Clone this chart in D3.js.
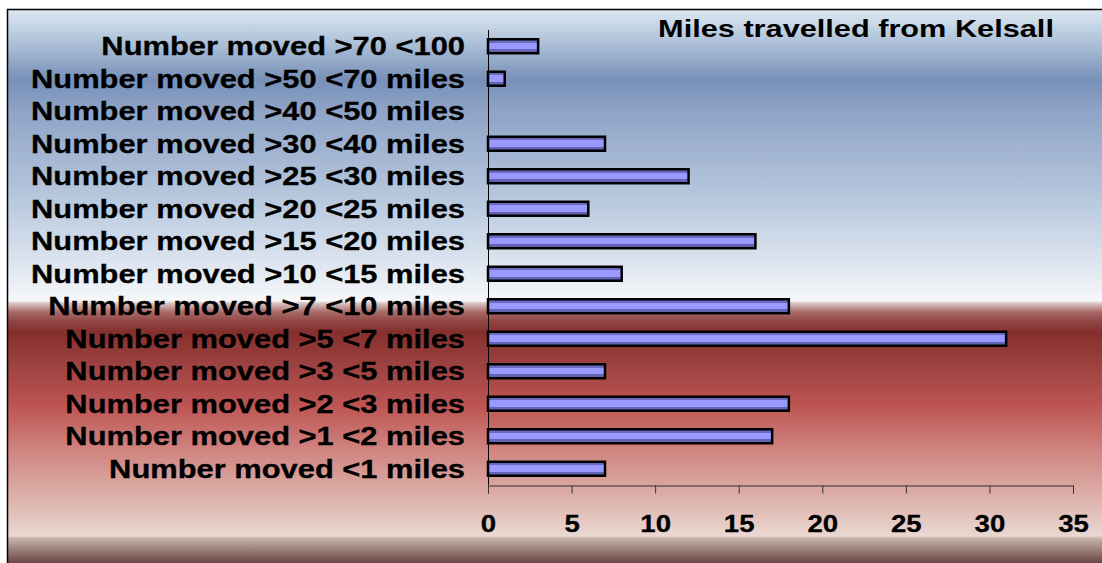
<!DOCTYPE html>
<html>
<head>
<meta charset="utf-8">
<script src="https://cdn.jsdelivr.net/npm/d3@7"></script>
<style>
  body { margin: 0; background: #fff; }
  svg { display: block; }
</style>
</head>
<body>
<script>
// categories top to bottom, as they appear in the chart
var categories = [
  "Number moved >70 <100",
  "Number moved >50 <70 miles",
  "Number moved >40 <50 miles",
  "Number moved >30 <40 miles",
  "Number moved >25 <30 miles",
  "Number moved >20 <25 miles",
  "Number moved >15 <20 miles",
  "Number moved >10 <15 miles",
  "Number moved >7 <10 miles",
  "Number moved >5 <7 miles",
  "Number moved >3 <5 miles",
  "Number moved >2 <3 miles",
  "Number moved >1 <2 miles",
  "Number moved <1 miles"
];
var moved = [3, 1, 0, 7, 12, 6, 16, 8, 18, 31, 7, 18, 17, 7];
var xTicks = [0, 5, 10, 15, 20, 25, 30, 35];
var title = "Miles travelled from Kelsall";

var width = 1102, height = 563;
var margin = {left: 488, right: 29, top: 30, bottom: 78};

var svg = d3.select("body").append("svg")
            .attr("width", width)
            .attr("height", height);

var defs = svg.append("defs");

// background of the chart area: blue sky fading to white, then red fading to pink
var bg = defs.append("linearGradient")
             .attr("id", "bg")
             .attr("gradientUnits", "userSpaceOnUse")
             .attr("x1", 0).attr("y1", 10).attr("x2", 0).attr("y2", 563);
var bgStops = [
  [10, "#dce8f2"], [45, "#aabed6"], [80, "#7890b8"], [110, "#8ea3c6"],
  [200, "#b8c8de"], [260, "#dbe3ee"], [301, "#f6f8fa"], [303, "#dcc8c6"],
  [312, "#a86a68"], [322, "#8e4442"], [332, "#852f2d"], [365, "#9c4240"],
  [405, "#bd5452"], [450, "#d08480"], [500, "#deb3ac"], [536, "#ead8d2"],
  [538, "#c9b3ad"], [563, "#6a4642"]
];
bg.selectAll("stop").data(bgStops).enter().append("stop")
  .attr("offset", function(d) { return (d[0] - 10) / 553; })
  .attr("stop-color", function(d) { return d[1]; });

// bar shading: darker top and bottom bands, lighter middle
var barGrad = defs.append("linearGradient")
                  .attr("id", "bar")
                  .attr("x1", 0).attr("y1", 0).attr("x2", 0).attr("y2", 1);
var barStops = [[0, "#6a6ac0"], [0.25, "#6a6ac0"], [0.26, "#9999ff"],
                [0.7, "#9999ff"], [0.71, "#6464b4"], [1, "#6464b4"]];
barGrad.selectAll("stop").data(barStops).enter().append("stop")
  .attr("offset", function(d) { return d[0]; })
  .attr("stop-color", function(d) { return d[1]; });

svg.append("rect")
   .attr("x", 7.5).attr("y", 9.5)
   .attr("width", width).attr("height", height)
   .attr("fill", "url(#bg)")
   .attr("stroke", "#000")
   .attr("stroke-width", 1.5);

var x = d3.scaleLinear()
          .domain([0, 35])
          .range([margin.left, width - margin.right]);

var y = d3.scaleBand()
          .domain(categories)
          .range([margin.top, height - margin.bottom])
          .paddingInner(0.57)
          .paddingOuter(0.285);

var font = "'Liberation Sans', Arial, sans-serif";

// category labels, stretched wide like the original
svg.append("g").selectAll("text")
   .data(categories).enter().append("text")
   .attr("transform", function(d) {
     return "translate(" + (margin.left - 23) + "," + (y(d) + y.bandwidth() / 2) + ") scale(1.235,1)";
   })
   .attr("text-anchor", "end")
   .attr("dy", "0.36em")
   .style("font-family", font)
   .style("font-weight", "bold")
   .style("font-size", "25px")
   .attr("fill", "#000")
   .attr("stroke", "#000")
   .attr("stroke-width", 0.3)
   .text(function(d) { return d; });

// bars (the empty category gets no bar)
svg.append("g").selectAll("rect")
   .data(categories).enter().append("rect")
   .attr("x", x(0))
   .attr("y", function(d) { return y(d); })
   .attr("width", function(d, i) { return x(moved[i]) - x(0); })
   .attr("height", y.bandwidth())
   .attr("fill", "url(#bar)")
   .attr("stroke", "#000")
   .attr("stroke-width", 2.5)
   .style("display", function(d, i) { return moved[i] > 0 ? null : "none"; });

// y axis line
svg.append("line")
   .attr("x1", x(0) + 0.5).attr("x2", x(0) + 0.5)
   .attr("y1", margin.top).attr("y2", height - margin.bottom)
   .attr("stroke", "#000")
   .attr("stroke-width", 1);

// x axis
var xAxis = d3.axisBottom(x)
              .tickValues(xTicks)
              .tickSize(8)
              .tickSizeOuter(8)
              .tickPadding(0);

var axisG = svg.append("g")
               .attr("transform", "translate(0," + (height - margin.bottom + 0.5) + ")")
               .call(xAxis);
axisG.select(".domain").attr("stroke", "#333");
axisG.selectAll(".tick line").attr("stroke", "#333");
axisG.selectAll(".tick text")
     .attr("y", 0)
     .attr("dy", 0)
     .attr("transform", "translate(0,46) scale(1.15,1)")
     .style("font-family", font)
     .style("font-weight", "bold")
     .style("font-size", "24px")
     .attr("fill", "#000")
     .attr("stroke", "#000")
     .attr("stroke-width", 0.3);

// title
svg.append("text")
   .attr("transform", "translate(856,37) scale(1.28,1)")
   .attr("text-anchor", "middle")
   .style("font-family", font)
   .style("font-weight", "bold")
   .style("font-size", "24px")
   .attr("fill", "#000")
   .text(title);
</script>
</body>
</html>
